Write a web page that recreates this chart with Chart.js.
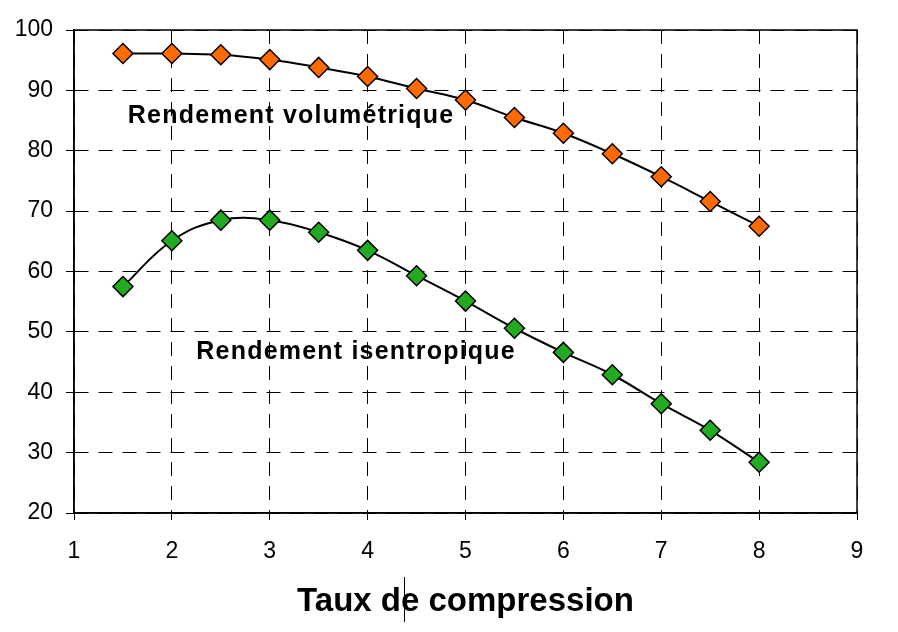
<!DOCTYPE html>
<html>
<head>
<meta charset="utf-8">
<script src="https://cdn.jsdelivr.net/npm/chart.js@4"></script>
<style>
  html, body { margin: 0; padding: 0; background: #fff; }
  #wrap { width: 898px; height: 632px; position: relative; }
</style>
</head>
<body>
<div id="wrap"><canvas id="chart"></canvas></div>
<script>
const taux = [1.5, 2, 2.5, 3, 3.5, 4, 4.5, 5, 5.5, 6, 6.5, 7, 7.5, 8];
const rendVolumetrique = [96.1, 96.1, 95.9, 95.1, 93.8, 92.3, 90.3, 88.4, 85.5, 82.9, 79.5, 75.7, 71.6, 67.5];
const rendIsentropique = [57.5, 65.1, 68.5, 68.5, 66.5, 63.5, 59.3, 55.1, 50.6, 46.6, 42.9, 38.1, 33.7, 28.4];
const xTicks = [1, 2, 3, 4, 5, 6, 7, 8, 9];
const yTicks = [20, 30, 40, 50, 60, 70, 80, 90, 100];
const labels = [
    { text: 'Rendement volumétrique', x: 1.55, y: 85.8 },
    { text: 'Rendement isentropique', x: 2.25, y: 46.7 }
];

const font = "'Liberation Sans', Arial, sans-serif";

const boxAndLabels = {
    id: 'boxAndLabels',
    afterDraw(chart) {
        const { ctx, chartArea, scales } = chart;
        ctx.save();
        ctx.strokeStyle = '#000';
        ctx.lineWidth = 1.5;
        ctx.setLineDash([]);
        ctx.strokeRect(chartArea.left, chartArea.top, chartArea.right - chartArea.left, chartArea.bottom - chartArea.top);

        ctx.fillStyle = '#000';
        ctx.font = 'bold 25px ' + font;
        ctx.letterSpacing = '1.2px';
        ctx.textAlign = 'left';
        ctx.textBaseline = 'middle';
        labels.forEach(l => {
            ctx.fillText(l.text, scales.x.getPixelForValue(l.x), scales.y.getPixelForValue(l.y));
        });

        // little cursor mark in the axis title
        ctx.lineWidth = 1;
        ctx.beginPath();
        ctx.moveTo(404.5, chartArea.bottom + 64);
        ctx.lineTo(404.5, chartArea.bottom + 109);
        ctx.stroke();
        ctx.restore();
    }
};

const makeSet = (data, color) => ({
    data: taux.map((x, i) => ({ x: x, y: data[i] })),
    borderColor: '#000',
    borderWidth: 2,
    tension: 0.4,
    pointStyle: 'rectRot',
    pointRadius: 10,
    pointBackgroundColor: color,
    pointBorderColor: '#000',
    pointBorderWidth: 1.5
});

new Chart(document.getElementById('chart').getContext('2d'), {
    type: 'line',
    data: {
        datasets: [
            makeSet(rendVolumetrique, '#FF6A00'),
            makeSet(rendIsentropique, '#22AA22')
        ]
    },
    options: {
        responsive: true,
        maintainAspectRatio: false,
        animation: false,
        layout: { padding: { left: 0, right: 41, top: 30, bottom: 0 } },
        plugins: {
            legend: { display: false },
            tooltip: { enabled: false }
        },
        scales: {
            x: {
                type: 'linear',
                min: 1,
                max: 9,
                afterBuildTicks: scale => { scale.ticks = xTicks.map(v => ({ value: v })); },
                afterFit: scale => { scale.height = 119; },
                grid: {
                    color: '#000',
                    lineWidth: 1,
                    tickLength: 7,
                    tickBorderDash: []
                },
                border: { color: '#000', width: 1.5, dash: [14, 10] },
                ticks: {
                    color: '#000',
                    padding: 18,
                    font: { family: font, size: 23 }
                },
                title: {
                    display: true,
                    text: 'Taux de compression',
                    color: '#000',
                    padding: { top: 4, bottom: 10 },
                    font: { family: font, size: 33, weight: 'bold' }
                }
            },
            y: {
                type: 'linear',
                min: 20,
                max: 100,
                afterBuildTicks: scale => { scale.ticks = yTicks.map(v => ({ value: v })); },
                afterFit: scale => { scale.width = 74; },
                grid: {
                    color: '#000',
                    lineWidth: 1,
                    tickLength: 8,
                    tickBorderDash: []
                },
                border: { color: '#000', width: 1.5, dash: [14, 10] },
                ticks: {
                    color: '#000',
                    padding: 13,
                    font: { family: font, size: 23 }
                }
            }
        }
    },
    plugins: [boxAndLabels]
});
</script>
</body>
</html>
